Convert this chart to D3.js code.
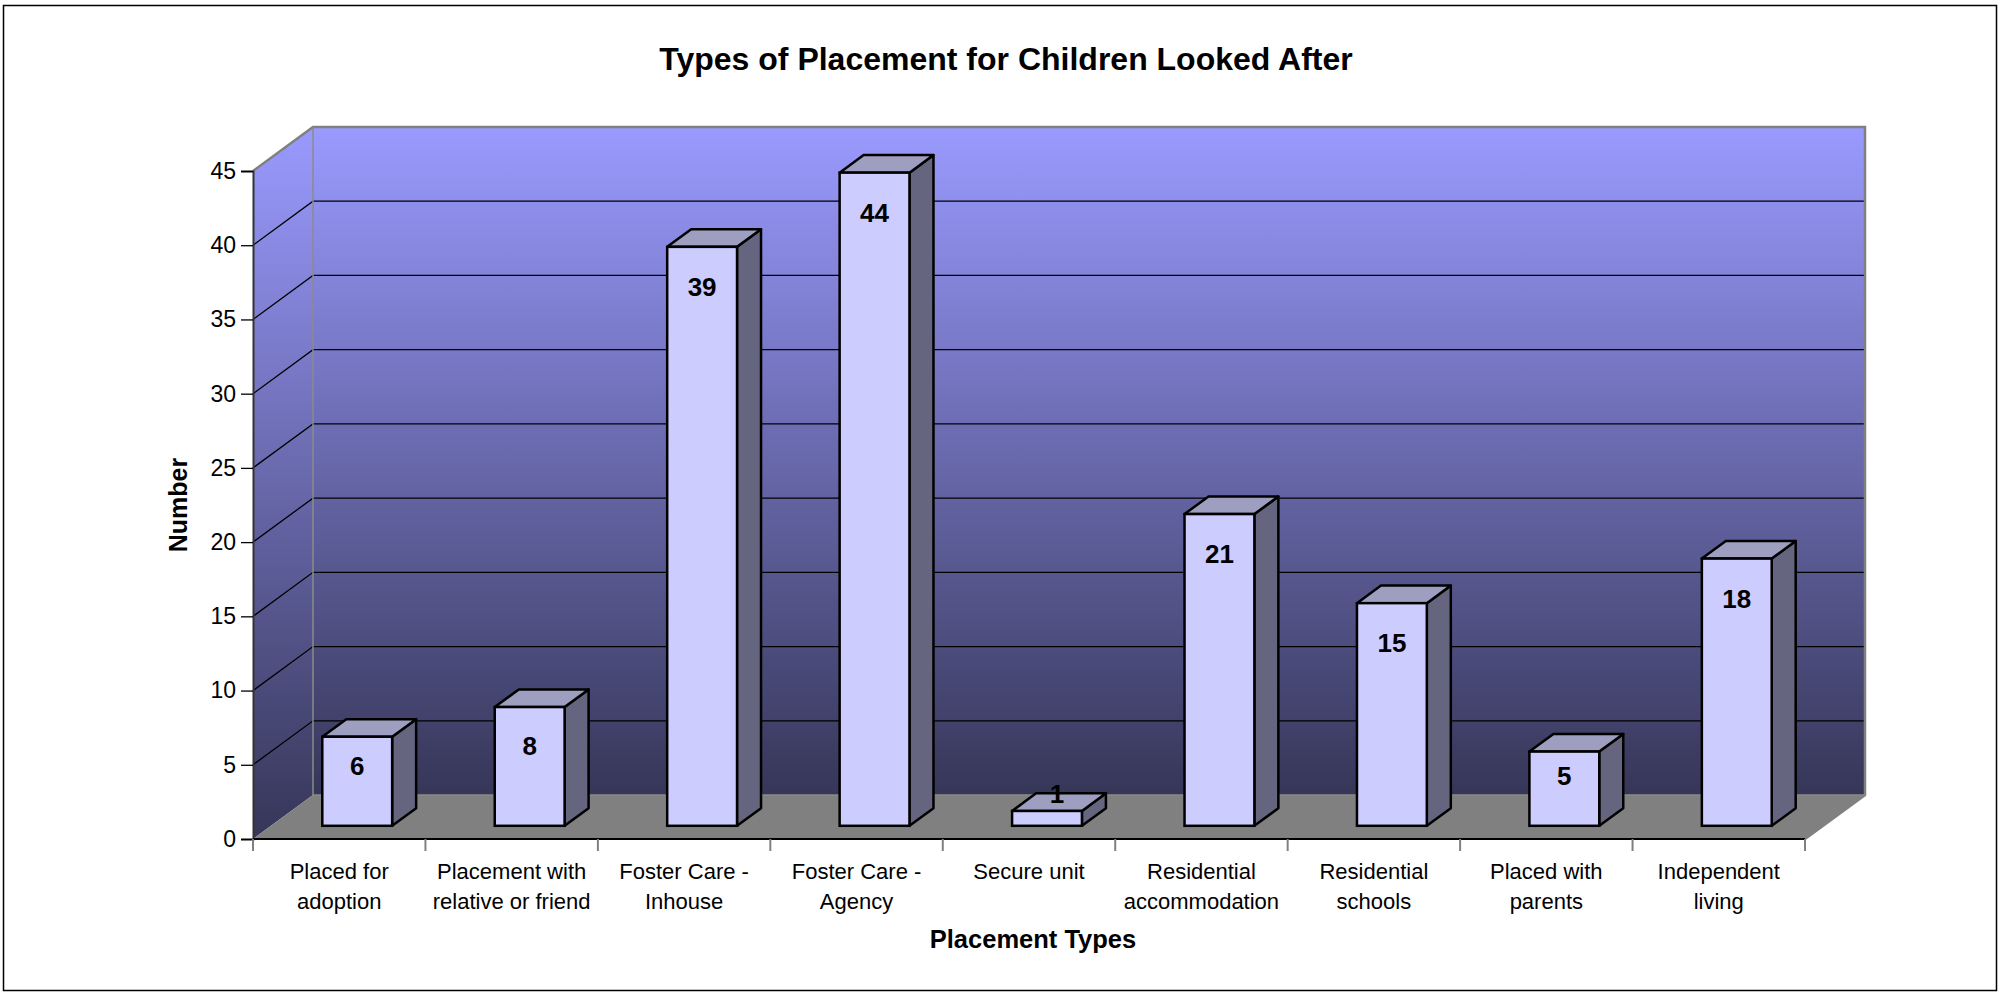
<!DOCTYPE html>
<html>
<head>
<meta charset="utf-8">
<script src="https://cdn.jsdelivr.net/npm/d3@7"></script>
<style>
  body { margin: 0; background: #fff; }
  text { font-family: "Liberation Sans", Arial, sans-serif; fill: #000; }
</style>
</head>
<body>
<svg width="1999" height="993"></svg>
<script>
const categories = [
  "Placed for\nadoption",
  "Placement with\nrelative or friend",
  "Foster Care -\nInhouse",
  "Foster Care -\nAgency",
  "Secure unit",
  "Residential\naccommodation",
  "Residential\nschools",
  "Placed with\nparents",
  "Independent\nliving"
];
const values = [6, 8, 39, 44, 1, 21, 15, 5, 18];
const yTicks = [0, 5, 10, 15, 20, 25, 30, 35, 40, 45];

const svg = d3.select("svg");

// 3d depth of the plot box
const depthX = 60, depthY = -44;

const x = d3.scaleBand().domain(categories).range([253, 1805]);
const y = d3.scaleLinear().domain([0, 45]).range([839, 171]);

const defs = svg.append("defs");
const grad = defs.append("linearGradient")
    .attr("id", "wall").attr("x1", 0).attr("y1", 0).attr("x2", 0).attr("y2", 1);
grad.append("stop").attr("offset", "0%").attr("stop-color", "#9a9aff");
grad.append("stop").attr("offset", "100%").attr("stop-color", "#363658");

// outer border
svg.append("rect")
    .attr("x", 3.5).attr("y", 5.5).attr("width", 1993).attr("height", 985)
    .attr("fill", "none").attr("stroke", "#000").attr("stroke-width", 1.5);

const x0 = x.range()[0], x1 = x.range()[1];
const yTop = y(45), yBot = y(0);

// back wall
svg.append("rect")
    .attr("x", x0 + depthX).attr("y", yTop + depthY)
    .attr("width", x1 - x0).attr("height", yBot - yTop)
    .attr("fill", "url(#wall)");

// left wall
svg.append("path")
    .attr("d", `M${x0},${yTop}L${x0 + depthX},${yTop + depthY}L${x0 + depthX},${yBot + depthY}L${x0},${yBot}Z`)
    .attr("fill", "url(#wall)");

// floor
svg.append("path")
    .attr("d", `M${x0},${yBot}L${x0 + depthX},${yBot + depthY}L${x1 + depthX},${yBot + depthY}L${x1},${yBot}Z`)
    .attr("fill", "#808080");

// gridlines
const grid = yTicks.filter(d => d > 0 && d < 45);
svg.append("g").selectAll("path")
  .data(grid)
  .join("path")
    .attr("d", d => `M${x0},${y(d)}L${x0 + depthX},${y(d) + depthY}L${x1 + depthX},${y(d) + depthY}`)
    .attr("fill", "none").attr("stroke", "#000").attr("stroke-width", 1.3);

// wall outlines
svg.append("path")
    .attr("d", `M${x0},${yTop}L${x0 + depthX},${yTop + depthY}L${x1 + depthX},${yTop + depthY}L${x1 + depthX},${yBot + depthY}L${x1},${yBot}`)
    .attr("fill", "none").attr("stroke", "#808080").attr("stroke-width", 2.5);
svg.append("path")
    .attr("d", `M${x0 + depthX},${yTop + depthY}L${x0 + depthX},${yBot + depthY}L${x1 + depthX},${yBot + depthY}`)
    .attr("fill", "none").attr("stroke", "#8a8a8a").attr("stroke-width", 1.5);

// y axis
const yAxis = svg.append("g")
    .attr("transform", `translate(${x0},0)`)
    .call(d3.axisLeft(y).tickValues(yTicks).tickSize(12).tickPadding(5));
yAxis.select(".domain").attr("stroke", "#333").attr("stroke-width", 2);
yAxis.selectAll(".tick line").attr("stroke", "#000").attr("stroke-width", 1.3);
yAxis.selectAll(".tick text")
    .style("font-family", "Liberation Sans, Arial, sans-serif")
    .style("font-size", "23px").attr("fill", "#000");

// x axis line and ticks
svg.append("line")
    .attr("x1", x0).attr("x2", x1).attr("y1", yBot).attr("y2", yBot)
    .attr("stroke", "#000").attr("stroke-width", 2);
const bounds = categories.map(d => x(d)).concat([x1]);
svg.append("g").selectAll("line")
  .data(bounds)
  .join("line")
    .attr("x1", d => d).attr("x2", d => d)
    .attr("y1", yBot).attr("y2", yBot + 12)
    .attr("stroke", "#808080").attr("stroke-width", 2);

// category labels
svg.append("g").selectAll("text")
  .data(categories)
  .join("text")
    .attr("text-anchor", "middle")
    .style("font-size", "22px")
    .each(function(d) {
      const t = d3.select(this);
      d.split("\n").forEach((line, i) => {
        t.append("tspan")
          .attr("x", x(d) + x.bandwidth() / 2)
          .attr("y", 879 + i * 30)
          .text(line);
      });
    });

// bars
const bw = x.bandwidth() * 0.405;
const fx = depthX * 0.3, fy = depthY * 0.3;
const bx = depthX * 0.4, by = depthY * 0.4;

const bars = svg.append("g").selectAll("g")
  .data(values.map((v, i) => ({ v, c: categories[i] })))
  .join("g");

bars.each(function(d) {
  const g = d3.select(this);
  const l = x(d.c) + (x.bandwidth() - bw) / 2 + fx;
  const r = l + bw;
  const t = y(d.v) + fy;
  const b = y(0) + fy;
  g.append("path")
    .attr("d", `M${r},${t}L${r + bx},${t + by}L${r + bx},${b + by}L${r},${b}Z`)
    .attr("fill", "#65657f").attr("stroke", "#000").attr("stroke-width", 2.5)
    .attr("stroke-linejoin", "round");
  g.append("path")
    .attr("d", `M${l},${t}L${l + bx},${t + by}L${r + bx},${t + by}L${r},${t}Z`)
    .attr("fill", "#9e9ec0").attr("stroke", "#000").attr("stroke-width", 2.5)
    .attr("stroke-linejoin", "round");
  g.append("rect")
    .attr("x", l).attr("y", t).attr("width", bw).attr("height", b - t)
    .attr("fill", "#ccccff").attr("stroke", "#000").attr("stroke-width", 2.5);
  const h = b - t;
  const cy = h > 40 ? t + Math.min(40, h * 0.33) : t - 17;
  g.append("text")
    .attr("x", (l + r) / 2 + (h > 40 ? 0 : 10))
    .attr("y", cy + 9)
    .attr("text-anchor", "middle")
    .style("font-size", "26px").style("font-weight", "bold")
    .text(d.v);
});

// titles
svg.append("text")
    .attr("x", 1006).attr("y", 70)
    .attr("text-anchor", "middle")
    .style("font-size", "32px").style("font-weight", "bold")
    .text("Types of Placement for Children Looked After");

svg.append("text")
    .attr("x", (x0 + x1) / 2 + 4).attr("y", 948)
    .attr("text-anchor", "middle")
    .style("font-size", "25.5px").style("font-weight", "bold")
    .text("Placement Types");

svg.append("text")
    .attr("transform", `translate(187,${(yTop + yBot) / 2}) rotate(-90)`)
    .attr("text-anchor", "middle")
    .style("font-size", "25px").style("font-weight", "bold")
    .text("Number");
</script>
</body>
</html>
